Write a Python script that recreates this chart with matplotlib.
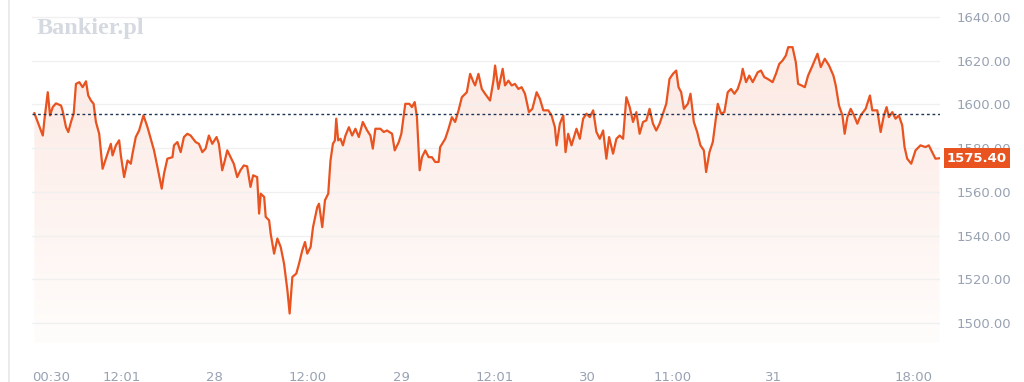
import numpy as np
import matplotlib.pyplot as plt
from matplotlib.patches import Polygon
from matplotlib.colors import LinearSegmentedColormap

# hours since 27th 00:00 and price
hours = [
    0.81, 1.89, 2.09, 2.53, 2.82, 3.17, 3.59, 4.24, 4.45, 4.88, 5.17, 5.52, 5.87,
    6.16, 6.59, 7.02, 7.45, 7.74, 8.09, 8.43, 8.73, 9.15, 9.59, 10.01, 10.65,
    10.87, 11.30, 11.72, 11.94, 12.36, 12.80, 13.22, 13.44, 13.86, 14.29, 14.85,
    15.37, 15.79, 16.21, 16.65, 17.20, 17.50, 17.93, 18.58, 18.78, 19.22, 19.64,
    20.06, 20.50, 20.92, 21.57, 21.99, 22.43, 22.85, 23.27, 23.71, 24.26, 24.56,
    24.99, 25.33, 25.64, 26.06, 26.48, 26.92, 27.34, 27.77, 28.20, 28.63, 28.97,
    29.49, 29.74, 29.95, 30.39, 30.59, 31.03, 31.23, 31.67, 32.09, 32.52, 32.95,
    33.38, 33.67, 34.02, 34.53, 34.88, 35.30, 35.65, 35.94, 36.37, 36.68, 37.23,
    37.45, 37.87, 38.22, 38.64, 38.93, 39.24, 39.50, 39.67, 39.92, 40.22, 40.53,
    40.86, 41.30, 41.72, 42.14, 42.58, 43.09, 43.65, 44.07, 44.38, 44.71, 45.35,
    45.79, 46.21, 46.86, 47.20, 47.72, 48.05, 48.56, 49.08, 49.42, 49.77, 50.06,
    50.41, 50.71, 51.13, 51.57, 51.99, 52.41, 52.85, 53.05, 53.70, 54.13, 54.56,
    54.98, 55.42, 55.84, 56.48, 56.91, 57.34, 57.55, 57.98, 58.41, 58.83, 59.47,
    59.91, 60.12, 60.55, 61.10, 61.40, 61.84, 62.26, 62.68, 63.12, 63.54, 63.97,
    64.48, 64.92, 65.47, 65.89, 66.33, 66.97, 67.39, 67.82, 68.04, 68.46, 68.90,
    69.19, 69.53, 69.96, 70.60, 71.03, 71.46, 71.89, 72.31, 72.75, 73.17, 73.60,
    74.03, 74.45, 74.80, 75.31, 75.74, 76.16, 76.60, 77.02, 77.45, 77.88, 78.31,
    78.73, 79.17, 79.59, 80.01, 80.45, 80.87, 81.30, 81.73, 82.16, 82.58, 83.02,
    83.44, 83.74, 84.08, 84.43, 84.94, 85.28, 85.71, 86.14, 86.56, 87.00, 87.29,
    87.72, 88.15, 88.48, 88.79, 89.22, 89.64, 90.07, 90.50, 90.93, 91.36, 91.78,
    92.00, 92.43, 92.85, 93.29, 93.93, 94.35, 94.78, 95.21, 95.85, 96.28, 96.70,
    97.14, 97.56, 97.86, 98.42, 98.84, 99.14, 99.58, 100.00, 100.42, 100.99,
    101.63, 102.05, 102.57, 103.12, 103.68, 103.98, 104.40, 104.84, 105.13,
    105.48, 105.90, 106.33, 106.76, 107.19, 107.83, 108.38, 108.69, 109.33,
    109.76, 110.18, 110.53, 110.82, 111.26, 111.68, 112.11, 112.54, 112.84,
    113.18, 113.70, 114.25, 114.89, 115.53, 115.96, 116.39, 116.82, 117.33,
]
prices = [
    1596.0, 1585.8, 1592.7, 1605.6, 1595.0, 1598.8, 1600.5, 1599.5, 1597.0, 1589.6,
    1587.4, 1592.0, 1595.9, 1609.4, 1610.2, 1607.9, 1610.6, 1604.1, 1601.8, 1600.3,
    1592.0, 1586.6, 1570.6, 1575.2, 1582.0, 1576.7, 1581.3, 1583.6, 1576.7, 1566.8,
    1574.4, 1572.9, 1577.5, 1585.1, 1588.1, 1595.0, 1589.6, 1584.3, 1579.0, 1571.4,
    1561.5, 1568.4, 1575.2, 1575.9, 1581.3, 1582.8, 1578.2, 1585.1, 1586.6, 1585.8,
    1582.8, 1582.0, 1578.2, 1579.8, 1585.8, 1582.0, 1585.1, 1582.0, 1569.9, 1574.4,
    1579.0, 1575.9, 1572.9, 1566.8, 1569.9, 1572.1, 1571.7, 1562.3, 1567.6, 1566.8,
    1550.1, 1559.2, 1557.7, 1548.6, 1547.0, 1540.9, 1531.8, 1538.7, 1534.8, 1527.2,
    1515.1, 1504.4, 1521.1, 1522.7, 1527.2, 1533.3, 1537.1, 1531.8, 1534.8, 1543.9,
    1553.1, 1554.6, 1543.9, 1556.2, 1559.2, 1574.4, 1582.0, 1583.6, 1593.5, 1583.6,
    1584.3, 1581.3, 1585.8, 1589.6, 1585.8, 1588.9, 1585.1, 1592.0, 1588.1, 1585.8,
    1579.8, 1588.9, 1588.9, 1587.4, 1588.1, 1586.6, 1579.0, 1582.8, 1586.6, 1600.3,
    1600.3, 1598.8, 1601.1, 1594.2, 1569.9, 1575.9, 1579.0, 1575.9, 1575.9, 1573.7,
    1573.7, 1580.5, 1584.3, 1588.9, 1594.2, 1592.0, 1597.3, 1603.3, 1605.6, 1614.0,
    1610.2, 1608.7, 1614.0, 1607.1, 1604.9, 1601.8, 1610.9, 1617.8, 1607.1, 1616.3,
    1608.7, 1610.9, 1608.7, 1609.4, 1607.1, 1607.9, 1604.9, 1596.5, 1598.0, 1605.6,
    1602.6, 1597.3, 1597.3, 1595.0, 1589.6, 1581.3, 1591.2, 1595.0, 1578.2, 1586.6,
    1581.3, 1588.9, 1584.3, 1593.5, 1595.8, 1594.2, 1597.3, 1587.4, 1584.3, 1588.1,
    1575.2, 1585.1, 1577.5, 1584.3, 1585.8, 1584.3, 1603.3, 1598.8, 1592.0, 1596.5,
    1586.6, 1592.0, 1592.7, 1598.0, 1591.2, 1588.1, 1591.2, 1595.8, 1600.3, 1611.7,
    1614.0, 1615.5, 1607.9, 1605.6, 1598.0, 1600.3, 1604.9, 1592.0, 1587.4, 1581.3,
    1579.0, 1569.1, 1578.2, 1582.8, 1592.0, 1600.3, 1595.8, 1596.5, 1605.6, 1607.1,
    1604.9, 1607.1, 1611.7, 1616.3, 1610.2, 1613.2, 1610.2, 1614.7, 1615.5, 1612.5,
    1611.7, 1610.2, 1614.0, 1618.5, 1620.1, 1622.4, 1626.2, 1626.2, 1619.3, 1609.4,
    1608.7, 1607.9, 1613.2, 1617.8, 1623.2, 1617.1, 1620.9, 1617.8, 1613.2, 1608.7,
    1599.5, 1595.0, 1586.6, 1594.2, 1598.0, 1595.0, 1591.2, 1595.0, 1598.0, 1604.1,
    1597.3, 1597.3, 1587.4, 1595.0, 1598.8, 1594.2, 1596.5, 1593.5, 1595.0, 1590.4,
    1580.5, 1575.2, 1572.9, 1579.0, 1581.3, 1580.5, 1581.3, 1578.2, 1575.2, 1575.4,
]
prev_close = 1595.6
last_price = 1575.40

tick_hours = [0.5, 12.02, 24, 36, 48, 60.02, 72, 83, 96, 114]
tick_labels = ["00:30", "12:01", "28", "12:00", "29", "12:01", "30", "11:00", "31", "18:00"]
y_ticks = [1500, 1520, 1540, 1560, 1580, 1600, 1620, 1640]

line_col = "#e8531f"
text_col = "#98a2b3"

fig = plt.figure(figsize=(10.24, 3.82), dpi=100)
ax = fig.add_axes([0.03125, 0.102, 0.8867, 0.885])
ax.set_xlim(0.8, 117.4)
ax.set_ylim(1490.9, 1645.5)

# gradient fill under the line (pink near the line, fading to white)
x = np.array(hours)
y = np.array(prices)
ymin = 1490.9
grad = np.linspace(0, 1, 256).reshape(-1, 1)
cmap = LinearSegmentedColormap.from_list("f", ["#fffdfc", "#fce8e2"])
im = ax.imshow(grad, cmap=cmap, aspect="auto", origin="lower",
               extent=[x[0], x[-1], ymin, 1628], zorder=1)
poly = Polygon(np.column_stack([np.r_[x[0], x, x[-1]], np.r_[ymin, y, ymin]]),
               closed=True, facecolor="none", edgecolor="none")
ax.add_patch(poly)
im.set_clip_path(poly)

ax.plot(x, y, color=line_col, lw=1.6, zorder=3)
ax.axhline(prev_close, color="#1f3556", lw=1, ls=(0, (2, 2)), zorder=4)

ax.set_yticks(y_ticks)
ax.set_yticklabels([f"{v:.2f}" for v in y_ticks])
ax.yaxis.tick_right()
ax.set_xticks(tick_hours)
ax.set_xticklabels(tick_labels)
ax.get_xticklabels()[0].set_ha("left")
ax.tick_params(axis="y", length=0, pad=12, labelsize=9.5, labelcolor=text_col)
ax.tick_params(axis="x", length=0, pad=20, labelsize=9.5, labelcolor=text_col)
ax.grid(axis="y", color="#f0f0f0", lw=1, zorder=0)
for s in ax.spines.values():
    s.set_visible(False)

# last price badge (covers part of the 1580.00 label, as in the original)
ax.annotate(f"{last_price:.2f}", xy=(1.0, last_price), xycoords=("axes fraction", "data"),
            xytext=(5, 0), textcoords="offset points", va="center", ha="left",
            color="white", fontsize=9.5, fontweight="bold",
            bbox=dict(boxstyle="square,pad=0.25", fc=line_col, ec="none"), zorder=5)

# watermark
fig.text(0.036, 0.925, "Bankier.pl", fontsize=17.5, fontweight="bold", family="Liberation Serif",
         color="#d5d9e0", va="center", ha="left")

# left border
fig.add_artist(plt.Line2D([0.0085, 0.0085], [0, 1], color="#e6e6e6", lw=1.2))

plt.savefig("out.png", dpi=100)
